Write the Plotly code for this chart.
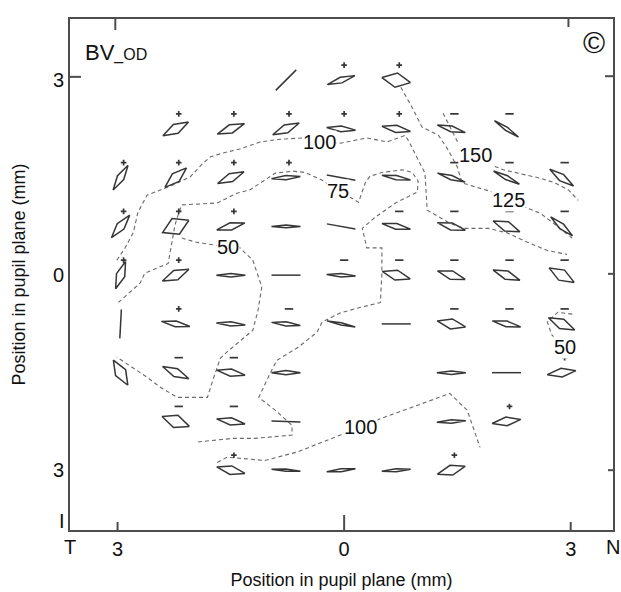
import math
import plotly.graph_objects as go

# ---- sampling grid across the pupil (mm) ----
GRID_X = [-2.96, -2.23, -1.50, -0.77, -0.04, 0.69, 1.42, 2.15, 2.88]
GRID_Y = [3.0, 2.25, 1.5, 0.75, 0.0, -0.75, -1.5, -2.25, -3.0]

# ---- polarization ellipse at each sampled point ----
ELL_ROW = [0, 0, 0,
           1, 1, 1, 1, 1, 1, 1,
           2, 2, 2, 2, 2, 2, 2, 2, 2,
           3, 3, 3, 3, 3, 3, 3, 3, 3,
           4, 4, 4, 4, 4, 4, 4, 4, 4,
           5, 5, 5, 5, 5, 5, 5, 5, 5,
           6, 6, 6, 6, 6, 6, 6,
           7, 7, 7, 7, 7,
           8, 8, 8, 8, 8]
ELL_COL = [3, 4, 5,
           1, 2, 3, 4, 5, 6, 7,
           0, 1, 2, 3, 4, 5, 6, 7, 8,
           0, 1, 2, 3, 4, 5, 6, 7, 8,
           0, 1, 2, 3, 4, 5, 6, 7, 8,
           0, 1, 2, 3, 4, 5, 6, 7, 8,
           0, 1, 2, 3, 6, 7, 8,
           1, 2, 3, 6, 7,
           2, 3, 4, 5, 6]
# azimuth of the major axis (degrees)
AZIMUTH = [45, 18, -10,
           28, 21, 24, -5, -10, -15, -34,
           59, 42, 24, 4, -10, -9, -18, -27, -35,
           51, 25, 14, 0, -10, -11, -15, -22, -41,
           70, 24, 0, 0, -3, -15, -17, -21, -30,
           87, -10, -4, -6, -12, 0, -12, -12, -25,
           -60, -25, -10, 0, 0, 0, 8,
           -20, -10, -2, 3, 8,
           -13, -4, 6, 4, 16]
# minor / major axis ratio (0 = linear)
ELLIPTICITY = [0, 0.2, 0.5,
               0.35, 0.3, 0.3, 0.2, 0.25, 0.2, 0.12,
               0.25, 0.35, 0.3, 0.15, 0, 0.15, 0.15, 0.15, 0.25,
               0.3, 0.6, 0.25, 0.1, 0, 0.2, 0.25, 0.35, 0.2,
               0.3, 0.35, 0.12, 0, 0.12, 0.35, 0.3, 0.3, 0.4,
               0, 0.2, 0.15, 0.15, 0.08, 0, 0.35, 0.2, 0.35,
               0.4, 0.3, 0.25, 0.15, 0.12, 0, 0.3,
               0.45, 0.25, 0, 0.12, 0.3,
               0.3, 0.08, 0.1, 0.1, 0.35]
# sense of rotation
HANDEDNESS = ["", "+", "+",
              "+", "+", "+", "+", "+", "-", "-",
              "+", "+", "+", "+", "", "", "-", "-", "-",
              "+", "+", "+", "", "", "-", "-", "-", "-",
              "+", "+", "", "", "-", "-", "-", "-", "-",
              "", "+", "", "-", "", "", "-", "-", "-",
              "", "-", "-", "", "", "", "+",
              "-", "-", "", "", "+",
              "+", "", "", "", "+"]

# ---- iso-retardance lines (nm), hand traced, (x mm, y mm) ----
ISO_150 = [(1.31, 2.49), (1.43, 2.20), (1.51, 2.03), (1.74, 1.85), (1.89, 1.72),
           (2.11, 1.62), (2.36, 1.55), (2.60, 1.49), (2.79, 1.42), (2.97, 1.31),
           (3.10, 1.15)]
ISO_125 = [(0.75, 2.89), (0.90, 2.58), (1.03, 2.28), (1.25, 2.15), (1.38, 1.92),
           (1.50, 1.66), (1.56, 1.42), (1.76, 1.35), (1.96, 1.28), (2.17, 1.15),
           (2.44, 1.03), (2.60, 0.95), (2.77, 0.80), (3.02, 0.57)]
ISO_100_UPPER = [(-3.01, 0.23), (-2.90, 0.42), (-2.79, 0.66), (-2.73, 0.97),
                 (-2.61, 1.23), (-2.44, 1.31), (-2.28, 1.38), (-2.04, 1.51),
                 (-1.87, 1.72), (-1.77, 1.82), (-1.60, 1.88), (-1.38, 1.94),
                 (-1.11, 2.05), (-0.85, 2.09), (-0.56, 2.11), (-0.32, 2.05),
                 (-0.05, 2.03), (0.30, 2.11), (0.57, 2.05), (0.81, 2.15),
                 (0.87, 2.03), (0.98, 1.77), (1.07, 1.57), (1.10, 1.00),
                 (1.40, 0.80), (1.58, 0.72), (1.91, 0.72), (2.16, 0.65),
                 (2.42, 0.51), (2.69, 0.38), (2.95, 0.32)]
ISO_75 = [(-2.99, -0.42), (-2.70, -0.12), (-2.64, 0.03), (-2.33, 0.18),
          (-2.28, 0.51), (-2.24, 0.77), (-2.20, 0.92), (-2.15, 1.08),
          (-1.68, 1.11), (-1.42, 1.26), (-1.25, 1.31), (-1.11, 1.42),
          (-0.91, 1.57), (-0.68, 1.60), (-0.52, 1.58), (-0.29, 1.46),
          (-0.08, 1.29), (0.11, 1.18), (0.19, 1.12), (0.28, 1.42),
          (0.34, 1.52), (0.50, 1.58), (0.77, 1.62), (0.90, 1.58),
          (0.98, 1.45), (0.97, 1.28), (0.68, 1.11), (0.41, 0.89),
          (0.24, 0.72), (0.30, 0.42), (0.50, 0.42), (0.50, 0.03),
          (0.48, -0.42), (0.17, -0.51), (-0.05, -0.58), (-0.29, -0.72),
          (-0.36, -0.88), (-0.61, -1.11), (-0.89, -1.31), (-0.98, -1.51),
          (-1.13, -1.88), (-0.91, -2.08), (-0.69, -2.31), (-0.69, -2.46),
          (-1.18, -2.51), (-1.47, -2.51), (-1.97, -2.57)]
ISO_50_LEFT = [(-2.15, 0.57), (-1.97, 0.51), (-1.54, 0.43), (-1.38, 0.42),
               (-1.21, 0.23), (-1.09, -0.18), (-1.14, -0.54), (-1.21, -0.85),
               (-1.55, -1.18), (-1.64, -1.28), (-1.74, -1.62), (-1.81, -1.88),
               (-2.21, -1.88), (-2.44, -1.72), (-2.61, -1.57), (-3.01, -1.26)]
ISO_50_RIGHT = [(3.02, -0.60), (2.83, -0.57), (2.69, -0.72), (2.75, -0.92),
                (2.90, -1.08)]
ISO_100_LOWER = [(-1.68, -2.88), (-1.55, -2.80), (-1.05, -2.85), (-0.62, -2.72),
                 (-0.05, -2.46), (0.21, -2.34), (0.50, -2.20), (1.40, -1.82),
                 (1.63, -2.08), (1.80, -2.65)]

ISO_LABEL_TEXT = ["150", "125", "100", "75", "50", "50", "100"]
ISO_LABEL_X = [1.74, 2.17, -0.32, -0.08, -1.54, 2.93, 0.21]
ISO_LABEL_Y = [1.85, 1.15, 2.05, 1.29, 0.43, -1.11, -2.34]

# ---- figure geometry ----
W, H = 621, 592
ML, MR, MT, MB = 70, 8, 19, 62
X_RANGE = [-3.63, 3.56]
Y_RANGE = [-3.92, 3.94]
PX_X = (W - ML - MR) / (X_RANGE[1] - X_RANGE[0])   # pixels per mm, horizontal
PX_Y = (H - MT - MB) / (Y_RANGE[1] - Y_RANGE[0])   # pixels per mm, vertical

ELL_LEN = 29.0      # drawn major axis, px
SIGN_RISE = 15.0    # handedness mark above the ellipse, px
FONT = "Liberation Sans, Arial, Helvetica, sans-serif"
INK = "#363636"

fig = go.Figure()

# iso-retardance lines
for path in (ISO_150, ISO_125, ISO_100_UPPER, ISO_75, ISO_50_LEFT,
             ISO_50_RIGHT, ISO_100_LOWER):
    fig.add_trace(go.Scatter(
        x=[p[0] for p in path], y=[p[1] for p in path], mode="lines",
        line=dict(color="#6a6a6a", width=1.1, dash="4px,3px"),
        hoverinfo="skip", showlegend=False))

# ellipses (drawn as rhombi) and linear states (segments)
ex, ey = [], []
for r, c, az, e in zip(ELL_ROW, ELL_COL, AZIMUTH, ELLIPTICITY):
    cx, cy = GRID_X[c], GRID_Y[r]
    t = math.radians(az)
    a = ELL_LEN / 2
    b = a * e
    ux, uy = a * math.cos(t) / PX_X, a * math.sin(t) / PX_Y
    vx, vy = -b * math.sin(t) / PX_X, b * math.cos(t) / PX_Y
    if e == 0:
        ex += [cx - ux, cx + ux, None]
        ey += [cy - uy, cy + uy, None]
    else:
        ex += [cx + ux, cx + vx, cx - ux, cx - vx, cx + ux, None]
        ey += [cy + uy, cy + vy, cy - uy, cy - vy, cy + uy, None]
fig.add_trace(go.Scatter(x=ex, y=ey, mode="lines",
                         line=dict(color=INK, width=1.5),
                         hoverinfo="skip", showlegend=False))

# handedness marks
for sign, sym, size in (("+", "cross-thin", 4), ("-", "line-ew", 6)):
    xs = [GRID_X[c] + 3 / PX_X for r, c, s in zip(ELL_ROW, ELL_COL, HANDEDNESS) if s == sign]
    ys = [GRID_Y[r] + SIGN_RISE / PX_Y for r, c, s in zip(ELL_ROW, ELL_COL, HANDEDNESS) if s == sign]
    fig.add_trace(go.Scatter(x=xs, y=ys, mode="markers",
                             marker=dict(symbol=sym, size=size,
                                         line=dict(color=INK, width=1.7)),
                             hoverinfo="skip", showlegend=False))

# contour value labels
for txt, lx, ly in zip(ISO_LABEL_TEXT, ISO_LABEL_X, ISO_LABEL_Y):
    fig.add_annotation(x=lx, y=ly, text=txt, showarrow=False,
                       font=dict(family=FONT, size=20, color="#111"),
                       bgcolor="white", borderpad=0)

# tick marks: (value, inward px, outward px)
shapes = []
for v, tin, tout in ((-3, 8, 0), (0, 15, 0), (3, 8, 0)):          # bottom
    shapes.append(dict(type="line", xref="x", yref="y", x0=v, x1=v,
                       y0=Y_RANGE[0] - tout / PX_Y, y1=Y_RANGE[0] + tin / PX_Y))
for v, tin, tout in ((-3.03, 11, 6), (2.97, 8, 0)):                # top
    shapes.append(dict(type="line", xref="x", yref="y", x0=v, x1=v,
                       y0=Y_RANGE[1] + tout / PX_Y, y1=Y_RANGE[1] - tin / PX_Y))
for v, tin, tout in ((3.05, 11, 0),):                               # left
    shapes.append(dict(type="line", xref="x", yref="y", y0=v, y1=v,
                       x0=X_RANGE[0] - tout / PX_X, x1=X_RANGE[0] + tin / PX_X))
for v, tin, tout in ((3.06, 8, 7), (0.02, 5, 6), (-3.0, 5, 6)):     # right
    shapes.append(dict(type="line", xref="x", yref="y", y0=v, y1=v,
                       x0=X_RANGE[1] + tout / PX_X, x1=X_RANGE[1] - tin / PX_X))
for s in shapes:
    s["line"] = dict(color="#4d4d4d", width=2)
fig.update_layout(shapes=shapes)

# side letters and panel text
side = dict(showarrow=False, font=dict(family=FONT, size=20, color="#111"))
fig.add_annotation(x=X_RANGE[0], y=0, xref="x", yref="paper", yanchor="middle",
                   yshift=-17, text="T", **side)
fig.add_annotation(x=X_RANGE[1], y=0, xref="x", yref="paper", yanchor="middle",
                   yshift=-17, text="N", **side)
fig.add_annotation(x=0, y=Y_RANGE[0], xref="paper", yref="y", xanchor="center",
                   yanchor="middle", xshift=-8, yshift=9, text="I", **side)
fig.add_annotation(x=0, y=1, xref="paper", yref="paper", xanchor="left", yanchor="top",
                   xshift=13, yshift=-19, showarrow=False,
                   font=dict(family=FONT, size=22, color="#111"),
                   text="BV<span style='font-size:16px'>_OD</span>")
fig.add_annotation(x=1, y=1, xref="paper", yref="paper", xanchor="right", yanchor="top",
                   xshift=-6, yshift=-5, text="©",
                   showarrow=False, font=dict(family=FONT, size=30, color="#111"))

axis_common = dict(showgrid=False, zeroline=False, showline=True, mirror=True,
                   linecolor="#4d4d4d", linewidth=2, ticks="",
                   tickfont=dict(family=FONT, size=20, color="#111"))
fig.update_xaxes(range=X_RANGE, tickvals=[-3, 0, 3], ticktext=["3", "0", "3"],
                 title=dict(text="Position in pupil plane (mm)", standoff=14,
                            font=dict(family=FONT, size=18, color="#111")),
                 **axis_common)
fig.update_yaxes(range=Y_RANGE, tickvals=[3, 0, -3], ticktext=["3", "0", "3"],
                 ticklabelstandoff=0,
                 title=dict(text="Position in pupil plane (mm)", standoff=23,
                            font=dict(family=FONT, size=18, color="#111")),
                 **axis_common)

fig.update_layout(width=W, height=H, autosize=False,
                  margin=dict(l=ML, r=MR, t=MT, b=MB, autoexpand=False),
                  paper_bgcolor="white", plot_bgcolor="white",
                  font=dict(family=FONT, color="#111"))

fig.write_html("out.html")
